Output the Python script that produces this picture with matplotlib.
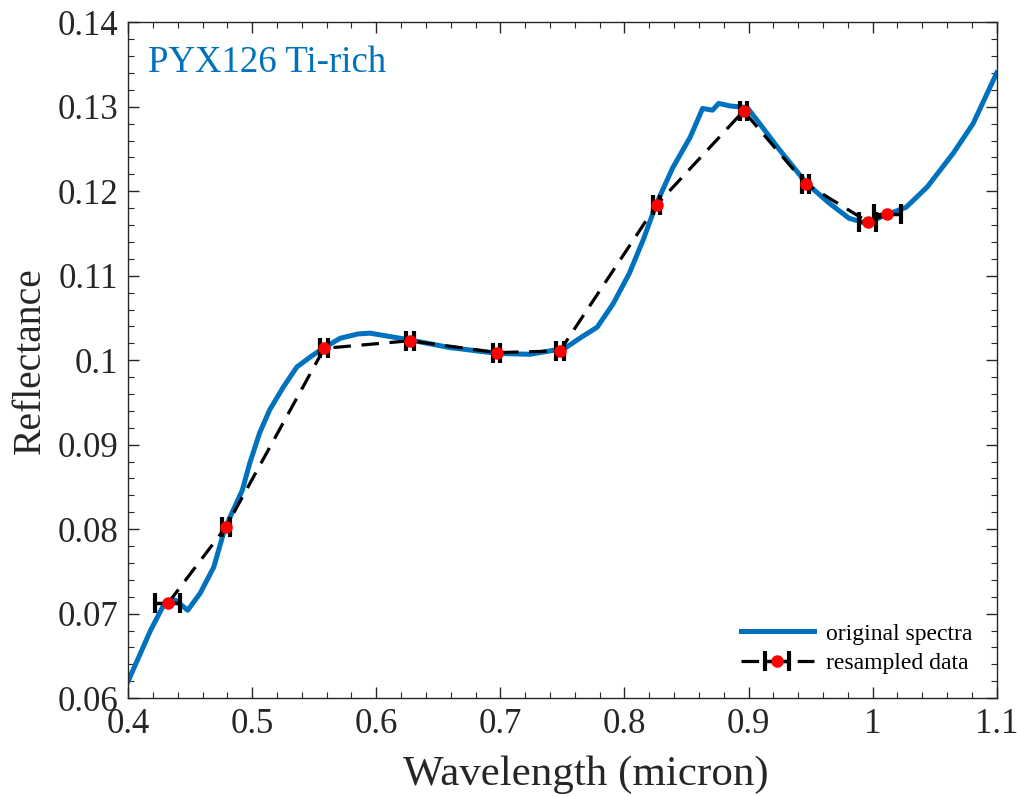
import matplotlib
matplotlib.use("Agg")
import matplotlib.pyplot as plt
from matplotlib.ticker import MultipleLocator, FuncFormatter

wl = [0.400, 0.418, 0.430, 0.438, 0.448, 0.458, 0.469, 0.478, 0.492, 0.498,
      0.506, 0.514, 0.525, 0.536, 0.547, 0.557, 0.571, 0.585, 0.595, 0.615,
      0.627, 0.659, 0.698, 0.724, 0.752, 0.764, 0.778, 0.791, 0.804, 0.815,
      0.826, 0.839, 0.853, 0.863, 0.871, 0.876, 0.885, 0.899, 0.909, 0.925,
      0.947, 0.965, 0.981, 0.995, 1.011, 1.027, 1.044, 1.065, 1.081, 1.100]
refl = [0.0620, 0.0680, 0.0714, 0.0716, 0.0704, 0.0724, 0.0755, 0.0801,
        0.0846, 0.0878, 0.0914, 0.0941, 0.0968, 0.0992, 0.1004, 0.1014,
        0.1026, 0.1031, 0.1032, 0.1027, 0.1024, 0.1015, 0.1008, 0.1007,
        0.1014, 0.1026, 0.1039, 0.1067, 0.1103, 0.1142, 0.1186, 0.1228,
        0.1264, 0.1298, 0.1296, 0.1304, 0.1301, 0.1299, 0.1280, 0.1249,
        0.1209, 0.1186, 0.1168, 0.1162, 0.1172, 0.1181, 0.1205, 0.1245,
        0.1280, 0.1340]

# resampled points
rs_wl = [0.432, 0.479, 0.558, 0.627, 0.697, 0.748, 0.826, 0.896, 0.946, 0.996, 1.012]
rs_refl = [0.0712, 0.0803, 0.1014, 0.1023, 0.1009, 0.1011, 0.1184, 0.1295, 0.1209, 0.1164, 0.1173]
rs_err = [0.010, 0.003, 0.003, 0.003, 0.003, 0.003, 0.003, 0.003, 0.003, 0.007, 0.011]

plt.rcParams['font.family'] = ['Liberation Serif', 'DejaVu Serif']

fig = plt.figure(figsize=(10.17, 7.96), dpi=100)
ax = fig.add_axes([0.126, 0.123, 0.854, 0.849])

blue = '#0072BD'
ax.plot(wl, refl, color=blue, lw=3.6, label='original spectra', zorder=2)
ax.errorbar(rs_wl, rs_refl, xerr=rs_err, color='black', lw=2.3, ls='--',
            dashes=(5.5, 3.3), marker='o', mfc='red', mec='red', ms=8,
            ecolor='black', elinewidth=2.5, capsize=7, capthick=3,
            label='resampled data', zorder=3)

ax.set_xlim(0.4, 1.1)
ax.set_ylim(0.06, 0.14)
ax.xaxis.set_major_locator(MultipleLocator(0.1))
ax.xaxis.set_minor_locator(MultipleLocator(0.02))
ax.yaxis.set_major_locator(MultipleLocator(0.01))
ax.yaxis.set_minor_locator(MultipleLocator(0.002))
fmt = FuncFormatter(lambda v, p: '%g' % round(v, 3))
ax.xaxis.set_major_formatter(fmt)
ax.yaxis.set_major_formatter(fmt)

ax.tick_params(which='both', direction='in', top=True, right=True,
               colors='#262626', labelcolor='#262626')
ax.tick_params(which='major', length=8, width=1, labelsize=25, pad=7)
ax.tick_params(which='minor', length=4, width=0.8)
for s in ax.spines.values():
    s.set_color('#262626')
    s.set_linewidth(1)

ax.set_xlabel('Wavelength (micron)', fontsize=31, color='#262626')
ax.xaxis.set_label_coords(0.527, -0.085)
ax.set_ylabel('Reflectance', fontsize=28.5, color='#262626', labelpad=6)

ax.text(0.023, 0.94, 'PYX126 Ti-rich', transform=ax.transAxes, fontsize=26.5,
        color=blue, va='center', ha='left')

ax.legend(loc='lower right', frameon=False, fontsize=17, handlelength=3.1,
          handletextpad=0.5, labelspacing=0.35, borderaxespad=0.2,
          bbox_to_anchor=(0.988, 0.014))

fig.savefig('out.png', dpi=100)
